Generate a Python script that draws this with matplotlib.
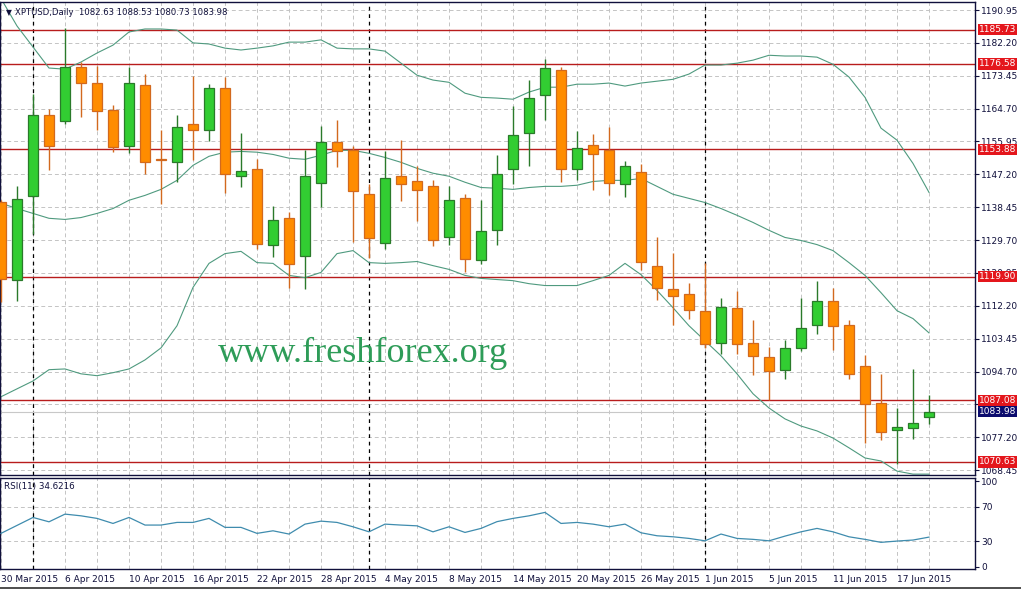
import matplotlib

matplotlib.use("Agg")

import matplotlib.pyplot as plt
import numpy as np

# daily XPTUSD bars, 30 Mar 2015 .. 19 Jun 2015 (59 sessions)
opens = [1139.8, 1119.1, 1141.5, 1163.1, 1161.4, 1175.7, 1171.5, 1164.3, 1154.8, 1171.1,
         1151.4, 1150.5, 1160.5, 1158.9, 1170.1, 1146.7, 1148.7, 1128.4, 1135.6, 1125.4,
         1145.0, 1155.7, 1153.8, 1142.0, 1129.0, 1146.7, 1145.5, 1144.2, 1130.5, 1141.0,
         1124.4, 1132.3, 1148.7, 1158.3, 1168.2, 1175.1, 1148.5, 1155.1, 1153.6, 1144.7,
         1147.9, 1122.8, 1116.8, 1115.4, 1110.9, 1102.3, 1111.6, 1102.4, 1098.6, 1095.1,
         1101.0, 1107.2, 1113.4, 1107.1, 1096.1, 1086.4, 1079.1, 1079.6, 1082.63]
highs = [1140.3, 1144.0, 1168.5, 1164.5, 1186.1, 1177.2, 1176.0, 1165.6, 1175.7, 1173.9,
         1158.9, 1163.1, 1173.3, 1171.2, 1173.0, 1158.3, 1151.4, 1138.9, 1137.3, 1153.6,
         1160.1, 1161.6, 1154.7, 1144.7, 1153.3, 1156.3, 1149.4, 1145.6, 1144.1, 1141.9,
         1140.5, 1152.3, 1165.3, 1172.3, 1177.8, 1175.8, 1158.7, 1157.9, 1159.7, 1150.7,
         1149.9, 1130.5, 1126.2, 1118.4, 1123.7, 1114.2, 1116.2, 1108.4, 1101.3, 1103.1,
         1114.2, 1118.9, 1117.0, 1108.4, 1099.2, 1094.0, 1085.1, 1095.5, 1088.53]
lows = [1113.1, 1113.6, 1131.4, 1148.3, 1160.7, 1162.5, 1158.9, 1153.2, 1152.9, 1147.4,
        1139.4, 1145.1, 1151.1, 1156.1, 1142.2, 1143.8, 1127.4, 1125.1, 1117.0, 1116.7,
        1138.5, 1149.1, 1129.1, 1125.0, 1127.4, 1140.1, 1134.7, 1128.1, 1128.4, 1121.1,
        1123.4, 1128.4, 1144.5, 1149.4, 1161.8, 1145.1, 1145.8, 1143.1, 1141.8, 1141.1,
        1121.8, 1113.8, 1107.2, 1108.7, 1101.1, 1099.4, 1099.5, 1093.8, 1087.2, 1092.7,
        1100.2, 1104.7, 1100.4, 1092.6, 1075.8, 1076.6, 1070.2, 1076.8, 1080.73]
closes = [1119.4, 1140.7, 1162.9, 1154.8, 1175.9, 1171.6, 1164.1, 1154.5, 1171.5, 1150.5,
          1150.9, 1159.9, 1159.1, 1170.1, 1147.4, 1148.2, 1128.6, 1135.1, 1123.4, 1146.7,
          1155.9, 1153.4, 1142.7, 1130.2, 1146.1, 1144.5, 1143.1, 1129.8, 1140.4, 1124.7,
          1132.0, 1147.4, 1157.8, 1167.4, 1175.4, 1148.5, 1154.3, 1152.5, 1144.9, 1149.3,
          1123.9, 1117.0, 1114.8, 1111.2, 1102.0, 1112.0, 1102.0, 1098.8, 1094.9, 1101.1,
          1106.3, 1113.4, 1106.8, 1094.0, 1086.0, 1078.6, 1080.0, 1081.0, 1083.98]

# Bollinger bands as drawn on the chart
bb_upper = [1194.0, 1186.7, 1181.1, 1175.5, 1175.2, 1177.1, 1179.5, 1181.6, 1185.1, 1185.9,
            1185.9, 1185.6, 1182.2, 1181.9, 1180.8, 1180.3, 1180.8, 1181.4, 1182.4, 1182.4,
            1183.0, 1180.8, 1180.6, 1180.6, 1180.0, 1176.8, 1173.6, 1172.3, 1171.7, 1168.8,
            1167.7, 1167.5, 1167.2, 1169.1, 1170.4, 1170.4, 1171.2, 1171.2, 1171.5, 1170.7,
            1171.5, 1172.0, 1172.5, 1173.9, 1176.3, 1176.3, 1176.8, 1177.6, 1178.9, 1178.7,
            1178.7, 1178.4, 1176.5, 1173.1, 1167.7, 1159.5, 1156.3, 1150.1, 1142.4]
bb_middle = [1139.5, 1138.1, 1136.8, 1135.5, 1135.2, 1135.7, 1136.8, 1138.1, 1140.3, 1141.6,
             1143.2, 1145.6, 1149.6, 1152.0, 1153.1, 1153.3, 1153.1, 1152.5, 1151.5, 1151.2,
             1152.3, 1153.6, 1153.6, 1152.8, 1151.7, 1150.4, 1148.8, 1147.5, 1146.7, 1145.1,
             1143.7, 1143.5, 1143.2, 1143.7, 1144.0, 1144.0, 1144.3, 1145.3, 1145.6, 1145.6,
             1146.1, 1144.0, 1141.9, 1140.8, 1139.7, 1138.1, 1136.3, 1134.4, 1132.3, 1130.4,
             1129.6, 1128.5, 1126.9, 1123.7, 1120.3, 1115.7, 1110.9, 1108.8, 1105.0]
bb_lower = [1088.0, 1090.1, 1092.2, 1095.2, 1095.4, 1094.1, 1093.6, 1094.4, 1095.4, 1097.8,
            1101.0, 1106.9, 1117.1, 1123.5, 1126.1, 1126.7, 1123.7, 1123.5, 1120.3, 1119.7,
            1121.1, 1126.1, 1126.9, 1123.7, 1123.5, 1123.7, 1124.0, 1122.9, 1121.9, 1120.3,
            1119.5, 1119.2, 1118.9, 1118.1, 1117.6, 1117.6, 1117.6, 1118.9, 1120.3, 1123.5,
            1120.5, 1116.3, 1111.7, 1106.9, 1102.9, 1098.9, 1094.1, 1088.8, 1085.0, 1082.1,
            1080.2, 1078.9, 1077.0, 1074.4, 1071.7, 1070.9, 1068.2, 1067.4, 1067.4]

rsi = [39.0, 48.3, 57.6, 52.5, 61.5, 59.5, 56.5, 50.6, 57.6, 48.7,
       48.7, 51.8, 51.8, 56.5, 46.0, 46.0, 39.0, 42.0, 38.2, 49.8,
       53.3, 51.8, 46.7, 40.8, 49.8, 48.7, 47.8, 40.8, 46.7, 40.1,
       44.8, 52.7, 56.5, 59.5, 63.5, 50.6, 51.8, 49.8, 46.7, 49.8,
       39.7, 36.2, 35.0, 33.1, 30.3, 38.2, 33.1, 32.0, 30.3, 35.8,
       40.8, 44.8, 40.8, 35.0, 32.0, 28.5, 30.0, 31.2, 34.62]

levels = [1185.73, 1176.58, 1153.88, 1119.90, 1087.08, 1070.63]
last_price = 1083.98

date_tick_idx = [0, 4, 8, 12, 16, 20, 24, 28, 32, 36, 40, 44, 48, 52, 56]
date_tick_labels = ["30 Mar 2015", "6 Apr 2015", "10 Apr 2015", "16 Apr 2015", "22 Apr 2015",
                    "28 Apr 2015", "4 May 2015", "8 May 2015", "14 May 2015", "20 May 2015",
                    "26 May 2015", "1 Jun 2015", "5 Jun 2015", "11 Jun 2015", "17 Jun 2015"]
month_start_idx = [2, 23, 44]
price_ticks = [1190.95 - 8.75 * k for k in range(15)]

W, H = 1021, 591
FRAME = "#10103c"
GRID = "#c4c4c4"
TXT = "#10103c"
UP_FILL, UP_EDGE = "#32cd32", "#2a7a2a"
DN_FILL, DN_EDGE = "#ff8c00", "#d2691e"
BAND = "#4f9a7f"
LEVEL = "#b81c1c"

plt.rcParams["font.family"] = "DejaVu Sans"


def px_axes(x0, y0, x1, y1):
    return [x0 / W, 1 - y1 / H, (x1 - x0) / W, (y1 - y0) / H]


fig = plt.figure(figsize=(W / 100, H / 100), dpi=100)
fig.patch.set_facecolor("white")
ax = fig.add_axes(px_axes(0, 2, 975, 474.5))
ax2 = fig.add_axes(px_axes(0, 477.5, 975, 569))

x = np.arange(len(opens))
o = np.array(opens)
c = np.array(closes)
up = c >= o
xlim = (-0.0625, 60.875)

for a in (ax, ax2):
    a.set_xlim(*xlim)
    a.set_facecolor("white")
    for s in a.spines.values():
        s.set_color(FRAME)
        s.set_linewidth(1.0)
    a.set_xticks(range(0, 59, 2), minor=True)
    a.set_xticks(date_tick_idx)
    a.grid(True, axis="x", which="both", color=GRID, linestyle=(0, (4, 3)), linewidth=0.7)
    a.set_axisbelow(True)
    for m in month_start_idx:
        a.axvline(m, color="black", linestyle=(0, (3, 3)), linewidth=0.9, zorder=1.5)
    a.yaxis.tick_right()
    a.tick_params(axis="y", which="both", labelsize=6.5, colors=TXT, length=3, pad=1.5, width=0.8)
    a.tick_params(axis="x", which="minor", length=0)

# main panel
ax.set_ylim(1067.3, 1193.08)
ax.set_yticks(price_ticks)
ax.set_yticklabels([f"{v:.2f}" for v in price_ticks])
ax.grid(True, axis="y", color=GRID, linestyle=(0, (4, 3)), linewidth=0.7)
ax.tick_params(axis="x", which="major", length=0, labelbottom=False)

ax.plot(x, bb_upper, color=BAND, lw=0.8, zorder=2)
ax.plot(x, bb_middle, color=BAND, lw=0.8, zorder=2)
ax.plot(x, bb_lower, color=BAND, lw=0.8, zorder=2)

for lv in levels:
    ax.axhline(lv, color=LEVEL, lw=1.0, zorder=1.8)
ax.axhline(last_price, color="#c8c8c8", lw=0.8, zorder=1.7)

edge = np.where(up, UP_EDGE, DN_EDGE)
fill = np.where(up, UP_FILL, DN_FILL)
ax.vlines(x, lows, highs, colors=edge, linewidth=1.0, zorder=3)
body = np.maximum(np.abs(c - o), 0.45)
ax.bar(x, body, bottom=np.minimum(o, c), width=0.62, color=fill, edgecolor=edge,
       linewidth=0.9, zorder=4)

ytr = ax.get_yaxis_transform()
for lv in levels:
    ax.text(1.004, lv, f"{lv:.2f}", transform=ytr, ha="left", va="center", fontsize=6.5,
            color="white", clip_on=False, zorder=10,
            bbox=dict(boxstyle="square,pad=0.12", fc="#e4161c", ec="none"))
ax.text(1.004, last_price, f"{last_price:.2f}", transform=ytr, ha="left", va="center",
        fontsize=6.5, color="white", clip_on=False, zorder=10,
        bbox=dict(boxstyle="square,pad=0.12", fc="#0c0c6e", ec="none"))

ax.text(6 / 975, 0.978, "\u25bc", transform=ax.transAxes, fontsize=5.5, color=TXT,
        ha="left", va="center")
ax.text(15 / 975, 0.978, "XPTUSD,Daily  1082.63 1088.53 1080.73 1083.98",
        transform=ax.transAxes, fontsize=6.1, color=TXT, ha="left", va="center")

fig.text(218 / W, 1 - 362.5 / H, "www.freshforex.org", fontsize=26, color="#2e9c58",
         family="Liberation Serif", ha="left", va="baseline")

# RSI panel
ax2.set_ylim(-2.65, 104.3)
ax2.set_yticks([0, 30, 70, 100])
ax2.set_yticklabels(["0", "30", "70", "100"])
for lv in (30, 70):
    ax2.axhline(lv, color=GRID, linestyle=(0, (4, 3)), linewidth=0.7, zorder=0.5)
ax2.plot(x, rsi, color="#3f8cae", lw=0.9, zorder=3)
ax2.text(4 / 975, 0.9, "RSI(11) 34.6216", transform=ax2.transAxes, fontsize=6.3,
         color=TXT, ha="left", va="center")
ax2.set_xticklabels(date_tick_labels)
for lab in ax2.get_xticklabels():
    lab.set_horizontalalignment("left")
ax2.tick_params(axis="x", which="major", labelsize=6.5, colors=TXT, length=0, pad=4)

fig.add_artist(plt.Line2D([0, 1], [1 - 588 / H, 1 - 588 / H], color="#303030", lw=1.2))

fig.savefig("out.png", dpi=100, facecolor="white")
